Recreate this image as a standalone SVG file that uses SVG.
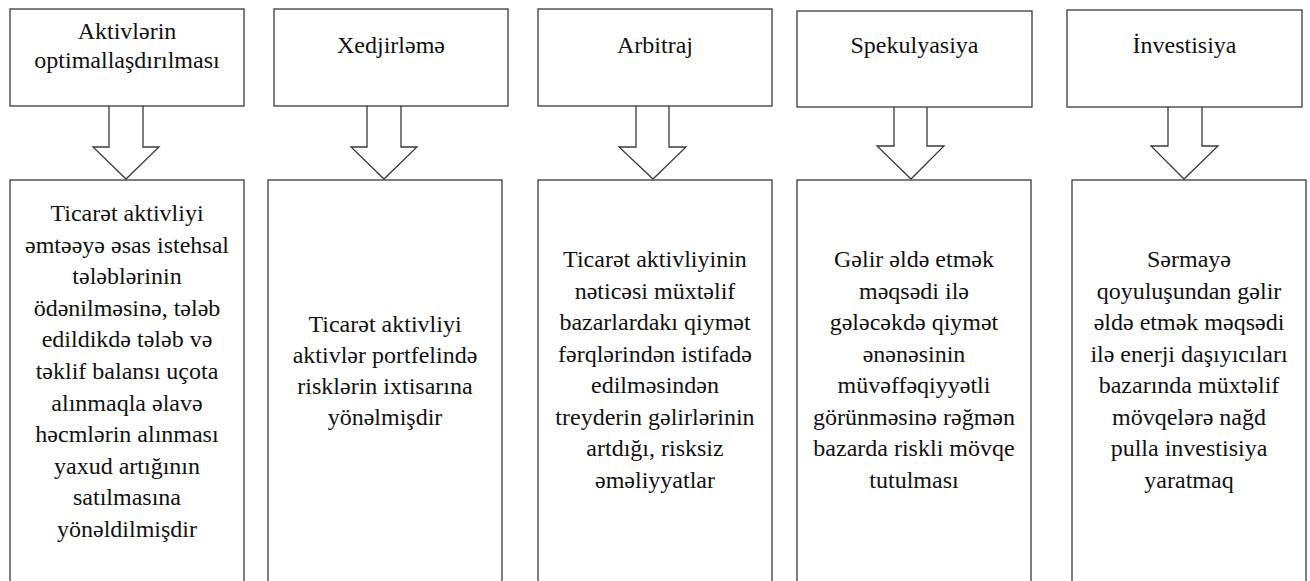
<svg xmlns="http://www.w3.org/2000/svg" width="1310" height="581" viewBox="0 0 1310 581">
<style>
.box{fill:#fff;stroke:#3a3a3a;stroke-width:1.3}
.arr{fill:#fff;stroke:#3a3a3a;stroke-width:1.3;stroke-linejoin:miter}
text{font-family:"Liberation Serif","Times New Roman",serif;font-size:24px;fill:#111;text-anchor:middle}
</style>
<rect width="1310" height="581" fill="#fff"/>
<g id="connectors">
<path class="arr" d="M109,106 V147 H93 L126,179 L159,147 H143 V106"/>
<path class="arr" d="M367,106 V147 H351 L384,179 L417,147 H401 V106"/>
<path class="arr" d="M636,106 V147 H619 L653,179 L686,147 H669 V106"/>
<path class="arr" d="M894,107 V146 H877 L911,179 L944,146 H927 V107"/>
<path class="arr" d="M1168,107 V146 H1151 L1184,179 L1218,146 H1202 V107"/>
</g>
<g id="top1"><rect class="box" x="10" y="9" width="234" height="97"/>
<text x="127" y="39">Aktivlərin</text><text x="127" y="68">optimallaşdırılması</text></g>
<g id="top2"><rect class="box" x="274" y="9" width="234" height="97"/>
<text x="391" y="53">Xedjirləmə</text></g>
<g id="top3"><rect class="box" x="538" y="9" width="234" height="97"/>
<text x="655" y="53">Arbitraj</text></g>
<g id="top4"><rect class="box" x="797" y="11" width="235" height="96"/>
<text x="914.5" y="53">Spekulyasiya</text></g>
<g id="top5"><rect class="box" x="1067" y="10" width="235" height="97"/>
<text x="1184.5" y="53">İnvestisiya</text></g>
<g id="bottom1"><rect class="box" x="10" y="180" width="234" height="420"/>
<text x="127" y="221">Ticarət aktivliyi</text>
<text x="127" y="252.6">əmtəəyə əsas istehsal</text>
<text x="127" y="284.2">tələblərinin</text>
<text x="127" y="315.8">ödənilməsinə, tələb</text>
<text x="127" y="347.4">edildikdə tələb və</text>
<text x="127" y="379">təklif balansı uçota</text>
<text x="127" y="410.6">alınmaqla əlavə</text>
<text x="127" y="442.2">həcmlərin alınması</text>
<text x="127" y="473.8">yaxud artığının</text>
<text x="127" y="505.4">satılmasına</text>
<text x="127" y="537">yönəldilmişdir</text></g>
<g id="bottom2"><rect class="box" x="268" y="180" width="234" height="420"/>
<text x="385" y="332">Ticarət aktivliyi</text>
<text x="385" y="363">aktivlər portfelində</text>
<text x="385" y="394">risklərin ixtisarına</text>
<text x="385" y="425">yönəlmişdir</text></g>
<g id="bottom3"><rect class="box" x="538" y="180" width="234" height="420"/>
<text x="655" y="267">Ticarət aktivliyinin</text>
<text x="655" y="298.5">nəticəsi müxtəlif</text>
<text x="655" y="330">bazarlardakı qiymət</text>
<text x="655" y="361.5">fərqlərindən istifadə</text>
<text x="655" y="393">edilməsindən</text>
<text x="655" y="424.5">treyderin gəlirlərinin</text>
<text x="655" y="456">artdığı, risksiz</text>
<text x="655" y="487.5">əməliyyatlar</text></g>
<g id="bottom4"><rect class="box" x="797" y="180" width="234" height="420"/>
<text x="914" y="267">Gəlir əldə etmək</text>
<text x="914" y="298.5">məqsədi ilə</text>
<text x="914" y="330">gələcəkdə qiymət</text>
<text x="914" y="361.5">ənənəsinin</text>
<text x="914" y="393">müvəffəqiyyətli</text>
<text x="914" y="424.5">görünməsinə rəğmən</text>
<text x="914" y="456">bazarda riskli mövqe</text>
<text x="914" y="487.5">tutulması</text></g>
<g id="bottom5"><rect class="box" x="1072" y="180" width="234" height="420"/>
<text x="1189" y="267">Sərmayə</text>
<text x="1189" y="298.5">qoyuluşundan gəlir</text>
<text x="1189" y="330">əldə etmək məqsədi</text>
<text x="1189" y="361.5">ilə enerji daşıyıcıları</text>
<text x="1189" y="393">bazarında müxtəlif</text>
<text x="1189" y="424.5">mövqelərə nağd</text>
<text x="1189" y="456">pulla investisiya</text>
<text x="1189" y="487.5">yaratmaq</text></g>
</svg>
